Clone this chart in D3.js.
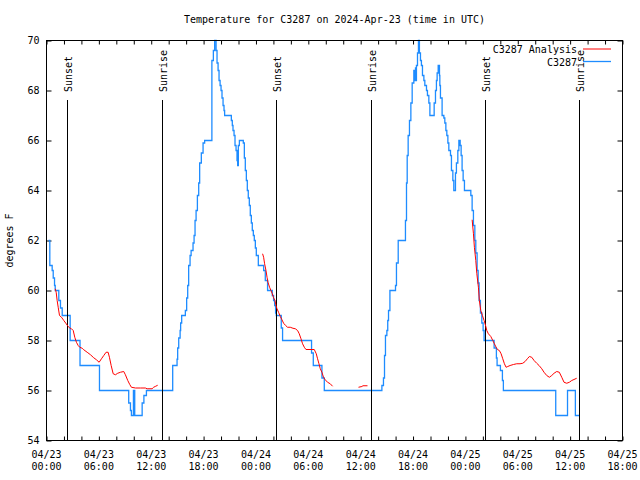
<!DOCTYPE html>
<html><head><meta charset="utf-8">
<script src="https://cdn.jsdelivr.net/npm/d3@7"></script>
<style>
body{margin:0;background:#fff}
text{font-family:"DejaVu Sans Mono","Liberation Mono",monospace;font-size:10px;fill:#000}
</style>
</head><body>
<svg id="chart" width="640" height="480"></svg>
<script>
// ---------------- data ----------------
const chartTitle = "Temperature for C3287 on 2024-Apr-23 (time in UTC)";
const yAxisLabel = "degrees F";
const startUTC = Date.UTC(2024, 3, 23, 0, 0);
const xDomainHours = [0, 66];
const yDomain = [54, 70];
const yTickValues = [54, 56, 58, 60, 62, 64, 66, 68, 70];
const xMinorStepHours = 2;
const xLabelStepHours = 6;
const legendLabels = ["C3287 Analysis", "C3287"];
const sunsetHours = [2.32, 26.25, 50.29];
const sunriseHours = [13.2, 37.13, 61.05];

// observations (hours since 04/23 00:00 UTC, deg F) — step series
const obsHours = [0.23,0.38,0.65,0.77,0.92,1.0,1.41,1.6,1.8,2.71,3.84,6.07,9.42,9.62,9.73,9.96,10.11,10.96,11.16,11.45,
 14.46,14.96,15.03,15.15,15.31,15.37,15.49,15.91,16.06,16.18,16.29,16.45,16.57,16.79,16.91,17.02,17.14,17.29,17.44,17.55,17.74,17.94,18.12,
 18.95,19.12,19.27,19.43,19.54,19.66,19.77,19.89,20.0,20.11,20.23,20.34,20.41,21.18,21.29,21.37,21.49,21.6,21.72,21.83,21.9,21.98,22.1,
 22.55,22.67,22.78,22.9,23.01,23.12,23.24,23.35,23.47,23.58,23.7,23.81,23.93,24.04,24.27,24.88,25.07,25.33,25.87,26.02,26.14,26.25,26.33,
 26.9,27.05,30.37,30.57,31.56,31.83,38.43,38.61,38.73,38.84,39.0,39.1,39.19,39.35,39.99,40.1,40.3,41.13,41.25,41.33,41.44,41.59,41.75,41.9,
 42.09,42.21,42.28,42.32,42.39,42.51,42.62,42.73,42.85,42.96,43.08,43.24,43.35,43.54,43.65,43.81,43.93,44.42,44.57,44.68,44.76,44.88,
 45.03,45.07,45.14,45.33,45.53,45.64,45.76,45.87,45.99,46.1,46.29,46.4,46.56,46.67,46.86,46.97,47.13,47.25,47.4,47.51,47.62,47.74,47.89,
 48.62,48.77,48.92,49.08,49.19,49.34,49.46,49.57,49.72,49.88,50.03,50.14,51.29,51.55,51.63,52.01,52.24,52.35,58.35,59.7,60.6,61.05];
const obsTemp = [62,61,60.8,60.5,60.2,60,59.6,59.3,59,58,57,56,55.5,55.2,55,56,55,55.5,55.8,56,
 57,57.25,57.7,58.1,58.4,58.7,59,59.2,59.7,60.2,61,61.4,61.6,61.9,62.2,62.8,63.2,63.8,64.3,65.1,65.5,65.9,66,
 69.2,69.6,70,69.6,69.1,68.8,68.4,68.2,68.0,67.7,67.4,67.2,67.0,66.8,66.6,66.4,66.2,65.8,65.6,65.2,65.0,65.8,66.0,
 65.9,65.3,64.8,64.4,64.0,63.7,63.4,63.0,62.7,62.4,62.2,62.0,61.7,61.4,61.0,60.8,60.4,60.0,59.8,59.6,59.4,59.1,59.0,
 58.5,58,57.5,57,56.5,56,56.2,56.5,57.4,58.2,58.4,58.8,59.2,60.0,60.2,61.1,62.0,62.8,64.3,65.4,66.2,66.8,67.5,68.3,
 68.8,68.4,68.9,68.4,69.0,69.5,70,69.5,69.2,69.0,68.6,68.4,68.2,68.0,67.8,67.5,67.0,67.5,68.0,68.4,68.7,69.0,
 68.6,68.2,67.7,67.0,66.9,66.7,66.4,66.2,65.9,65.6,65.4,64.8,64.4,64.0,64.7,65.1,65.6,66.0,65.8,65.4,64.8,64.4,64.0,
 63.8,63.2,62.6,62.0,61.5,60.8,60.3,59.6,59.1,58.7,58.4,58,57.7,57.3,57,56.8,56.4,56,55,56,55,55];

// analysis (null = gap)
const anaHours = [1.0,1.11,1.22,1.34,1.49,1.72,1.98,2.26,2.48,2.67,2.86,3.06,3.24,3.43,3.63,3.81,4.09,4.27,4.66,5.04,5.41,5.72,6.03,
 6.30,6.56,6.83,7.06,7.21,7.41,7.64,7.90,8.16,8.47,8.85,9.04,9.31,9.54,9.73,10.19,10.76,11.33,11.53,12.10,12.28,12.51,12.74,null,
 24.76,24.88,24.99,25.15,25.27,25.38,25.56,25.72,25.87,26.02,26.18,26.30,26.41,26.59,26.79,26.98,27.17,27.40,27.62,27.93,28.24,28.51,
 28.77,28.96,29.16,29.34,29.54,29.73,30.68,30.91,31.06,31.22,31.37,31.56,31.74,31.94,32.20,32.51,32.78,null,
 35.75,36.14,36.26,36.78,null,
 48.77,48.92,49.03,49.19,49.31,49.49,49.60,49.76,49.95,50.14,50.34,50.45,50.63,50.91,51.14,51.32,51.52,51.67,51.89,52.09,52.28,52.47,
 52.66,52.85,53.12,53.50,53.88,54.26,54.57,54.84,55.10,55.33,55.60,55.87,56.17,56.44,56.75,57.01,57.32,57.62,57.89,58.16,58.46,58.76,
 59.04,59.30,59.61,59.91,60.18,60.44,60.75];
const anaTemp = [60.07,59.93,59.6,59.33,59.0,58.93,58.8,58.67,58.56,58.5,58.47,58.4,58.13,57.93,57.8,57.73,57.69,57.63,57.53,57.43,57.31,57.23,57.13,
 57.27,57.4,57.53,57.53,57.33,57.0,56.67,56.63,56.69,56.73,56.76,56.63,56.4,56.24,56.13,56.1,56.1,56.1,56.07,56.07,56.13,56.17,56.21,null,
 61.47,61.33,61.07,60.8,60.53,60.33,60.13,60.0,59.87,59.71,59.6,59.4,59.27,59.13,58.96,58.83,58.69,58.6,58.53,58.53,58.49,58.47,
 58.4,58.27,58.07,57.87,57.73,57.64,57.64,57.47,57.27,57.07,56.87,56.73,56.53,56.43,56.33,56.27,56.17,null,
 56.13,56.16,56.19,56.19,null,
 62.83,62.27,61.73,61.2,60.67,60.13,59.6,59.2,59.0,58.8,58.56,58.4,58.27,58.16,58.0,57.87,57.73,57.64,57.6,57.47,57.27,57.07,
 56.93,56.96,57.0,57.04,57.07,57.07,57.09,57.16,57.27,57.36,57.33,57.2,57.09,57.0,56.87,56.73,56.6,56.53,56.6,56.69,56.76,56.73,
 56.53,56.33,56.29,56.33,56.4,56.44,56.49];

// ---------------- drawing ----------------
const toDate = h => new Date(startUTC + h * 3600e3);
const L = 46.5, R = 622.5, T = 40.5, B = 440.5;
const svg = d3.select("#chart");
const x = d3.scaleUtc().domain(xDomainHours.map(toDate)).range([L, R]);
const y = d3.scaleLinear().domain(yDomain).range([B, T]);

const blueC = "#1e8cff", redC = "#ff0000";

// title
svg.append("text").attr("x", (L + R) / 2).attr("y", 23).attr("text-anchor", "middle").text(chartTitle);
// y label
svg.append("text").attr("transform", `translate(13,${(T + B) / 2}) rotate(-90)`)
  .attr("text-anchor", "middle").text(yAxisLabel);

// ticks
const minorTicks = d3.range(xDomainHours[0], xDomainHours[1] + 0.001, xMinorStepHours).map(toDate);
const g = svg.append("g");
g.append("g").attr("transform", `translate(0,${B})`)
  .call(d3.axisBottom(x).tickValues(minorTicks).tickSize(-4).tickFormat(""))
  .call(s => { s.select(".domain").remove(); });
g.append("g").attr("transform", `translate(0,${T})`)
  .call(d3.axisTop(x).tickValues(minorTicks).tickSize(-4).tickFormat(""))
  .call(s => { s.select(".domain").remove(); });
g.append("g").attr("transform", `translate(${L},0)`)
  .call(d3.axisLeft(y).tickValues(yTickValues).tickSize(-5).tickPadding(7).tickFormat(d3.format("d")))
  .call(s => { s.select(".domain").remove(); s.selectAll("text").attr("font-size", null).attr("font-family", null); });
g.append("g").attr("transform", `translate(${R},0)`)
  .call(d3.axisRight(y).tickValues(yTickValues).tickSize(-5).tickFormat(""))
  .call(s => { s.select(".domain").remove(); });
g.selectAll(".tick line").attr("stroke", "#000");
g.selectAll("g").attr("font-family", null).attr("font-size", null);

// x labels (two lines)
const labelTicks = d3.range(xDomainHours[0], xDomainHours[1] + 0.001, xLabelStepHours).map(toDate);
const fmtD = d3.utcFormat("%m/%d"), fmtT = d3.utcFormat("%H:%M");
const xl = svg.append("g").selectAll("text").data(labelTicks).join("text")
  .attr("text-anchor", "middle").attr("x", d => x(d));
xl.append("tspan").attr("x", d => x(d)).attr("y", 458).text(d => fmtD(d));
xl.append("tspan").attr("x", d => x(d)).attr("y", 470).text(d => fmtT(d));

// observation line
const obs = obsHours.map((h, i) => ({ t: toDate(h), v: obsTemp[i] }));
svg.append("path").datum(obs)
  .attr("fill", "none").attr("stroke", blueC).attr("stroke-width", 1.3)
  .attr("d", d3.line().x(d => x(d.t)).y(d => y(d.v)).curve(d3.curveStepAfter));

// sunrise / sunset
const events = sunsetHours.map(h => ({ h, name: "Sunset" }))
  .concat(sunriseHours.map(h => ({ h, name: "Sunrise" })));
const ev = svg.append("g").selectAll("g").data(events).join("g");
ev.append("line").attr("x1", d => Math.round(x(toDate(d.h))) + 0.5).attr("x2", d => Math.round(x(toDate(d.h))) + 0.5)
  .attr("y1", 100).attr("y2", B).attr("stroke", "#000").attr("stroke-width", 1);
ev.append("text").attr("transform", d => `translate(${Math.round(x(toDate(d.h))) + 4.5},92) rotate(-90)`)
  .attr("text-anchor", "start").text(d => d.name);

// analysis line
const ana = anaHours.map((h, i) => ({ t: h === null ? null : toDate(h), v: anaTemp[i] }));
svg.append("path").datum(ana)
  .attr("fill", "none").attr("stroke", redC).attr("stroke-width", 1)
  .attr("d", d3.line().defined(d => d.t !== null && d.v !== null).x(d => x(d.t)).y(d => y(d.v)));

// frame
svg.append("rect").attr("x", L).attr("y", T).attr("width", R - L).attr("height", B - T)
  .attr("fill", "none").attr("stroke", "#000").attr("stroke-width", 1);

// legend
const leg = svg.append("g").selectAll("g").data(legendLabels).join("g")
  .attr("transform", (d, i) => `translate(0,${53 + i * 12.5})`);
leg.append("text").attr("x", 577).attr("y", 0).attr("text-anchor", "end").text(d => d);
leg.append("line").attr("x1", 583).attr("x2", 611).attr("y1", -4).attr("y2", -4)
  .attr("stroke", (d, i) => i === 0 ? redC : blueC).attr("stroke-width", (d, i) => i === 0 ? 1 : 1.3);
</script>
</body></html>
